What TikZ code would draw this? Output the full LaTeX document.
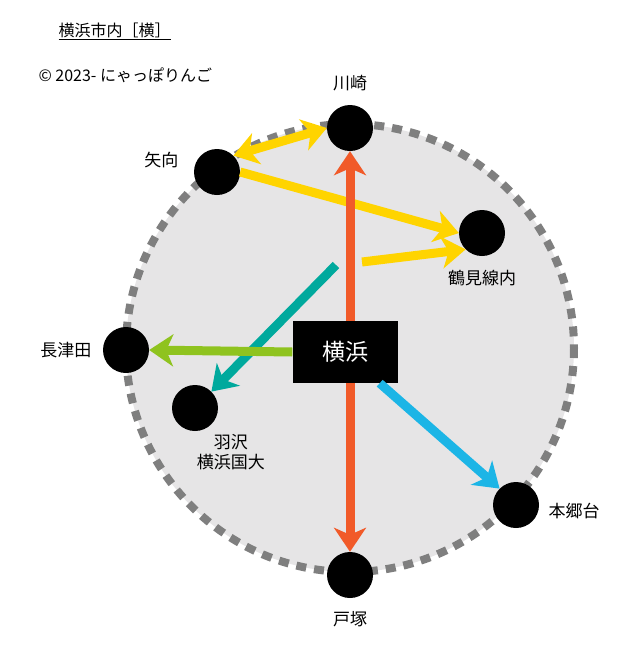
\documentclass[tikz,border=0pt]{standalone}
\usepackage{fontspec}
\setmainfont{Noto Sans CJK JP}
\usetikzlibrary{arrows.meta,positioning}
\definecolor{ringgray}{HTML}{E6E5E6}
\definecolor{dashgray}{HTML}{7F7F7F}
\definecolor{tokaido}{HTML}{F15A29}
\definecolor{nambu}{HTML}{FFD400}
\definecolor{sotetsu}{HTML}{00A99D}
\definecolor{denen}{HTML}{8FC31F}
\definecolor{negishi}{HTML}{1CB5E6}
\tikzstyle{station} = [circle, fill=black, minimum size=46pt, inner sep=0pt]
\tikzstyle{label} = [font=\fontsize{17}{20}\selectfont, align=center]
\tikzstyle{arrow} = [line width=9pt, -{Stealth[length=24pt,width=32pt,inset=7pt]}]
\tikzstyle{twoway} = [line width=9pt, {Stealth[length=24pt,width=32pt,inset=7pt]}-{Stealth[length=24pt,width=32pt,inset=7pt]}]

\begin{document}
\begin{tikzpicture}[x=1pt, y=-1pt]
            \useasboundingbox (0,0) rectangle (640,665);
            \fill[ringgray] (350,348) circle (224);
            \draw[dashgray, line width=8pt, dash pattern=on 10pt off 8pt] (350,348) circle (224);

            \node (title) [label, anchor=west, font=\fontsize{16}{19}\selectfont] at (55,31) {\underline{横浜市内［横］}};
            \node (copy) [label, anchor=west, font=\fontsize{16}{19}\selectfont] at (35,75) {© 2023- にゃっぽりんご};

            \node (kawasaki) [station] at (350,128) {};
            \node (yako) [station] at (217,172) {};
            \node (tsurumi) [station] at (482,233) {};
            \node (nagatsuta) [station] at (126,350) {};
            \node (hazawa) [station] at (195,408) {};
            \node (hongodai) [station] at (516,505) {};
            \node (totsuka) [station] at (350,575) {};

            \node (kawasakiL) [label, above=10pt of kawasaki] {川崎};
            \node (yakoL) [label, left=12pt of yako, yshift=12pt] {矢向};
            \node (tsurumiL) [label, below=10pt of tsurumi] {鶴見線内};
            \node (nagatsutaL) [label, left=8pt of nagatsuta] {長津田};
            \node (hazawaL) [label, below right=6pt and -18pt of hazawa] {羽沢\\横浜国大};
            \node (hongodaiL) [label, right=6pt of hongodai, yshift=-6pt] {本郷台};
            \node (totsukaL) [label, below=10pt of totsuka] {戸塚};

            \coordinate (tsurumiIn) at (362,262);
            \coordinate (sotetsuIn) at (336,265);

            \draw[twoway, nambu] (yako.north east) -- (kawasaki.west);
            \draw[arrow, nambu] (yako.east) -- (tsurumi.west);
            \draw[arrow, nambu] (tsurumiIn) -- (tsurumi.south west);
            \draw[twoway, tokaido] (kawasaki.south) -- (totsuka.north);
            \draw[arrow, sotetsu] (sotetsuIn) -- (hazawa.north east);

            \node (yokohama) [fill=black, text=white, minimum width=105pt, minimum height=62pt, font=\fontsize{23}{26}\selectfont] at (345,352) {横浜};

            \draw[arrow, denen] (yokohama.west) -- (nagatsuta.east);
            \draw[arrow, negishi] (yokohama.south east) ++(-18pt,0) -- (hongodai.north west);
        \end{tikzpicture}
\end{document}
